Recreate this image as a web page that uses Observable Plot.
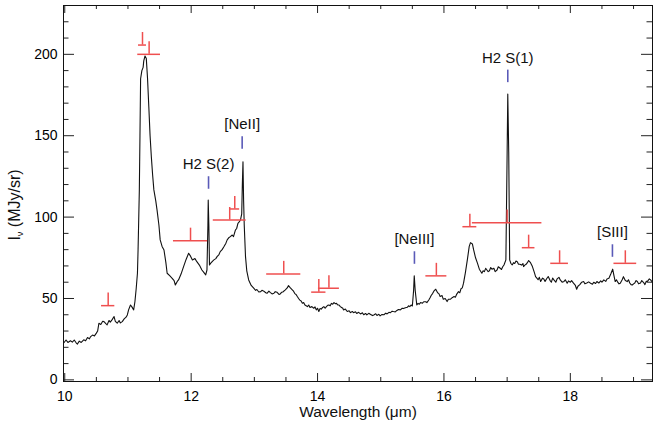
<!DOCTYPE html>
<html><head><meta charset="utf-8">
<script src="https://cdn.jsdelivr.net/npm/d3@7"></script>
<script src="https://cdn.jsdelivr.net/npm/@observablehq/plot@0.6"></script>
<style>body{margin:0;background:#fff} svg{display:block}</style>
</head><body><div id="chart"></div>
<script>
// Spectrum (wavelength in micron, intensity in MJy/sr)
const wavelength = [
9.98,10.02,10.05,10.09,10.12,10.15,10.18,10.2,10.23,10.26,10.3,10.33,10.36,10.39,10.41,10.44,10.47,10.5,10.52,10.54,10.57,10.6,10.62,10.65,10.67,10.7,10.72,10.75,10.78,10.8,10.83,10.86,10.88,10.91,10.94,10.97,10.99,11.01,11.04,11.06,11.09,11.11,11.13,11.15,11.16,11.17,11.18,11.19,11.2,11.22,11.24,11.25,11.27,11.29,11.31,11.33,11.35,11.37,11.39,11.41,11.44,11.46,11.49,11.51,11.54,11.57,11.6,11.62,11.66,11.7,11.73,11.75,11.78,11.8,11.84,11.88,11.92,11.96,11.99,12.02,12.06,12.09,12.13,12.17,12.2,12.23,12.25,12.265,12.27,12.28,12.29,12.31,12.34,12.36,12.39,12.41,12.44,12.46,12.49,12.52,12.55,12.57,12.6,12.62,12.65,12.67,12.7,12.72,12.74,12.76,12.78,12.8,12.81,12.82,12.83,12.84,12.86,12.88,12.91,12.95,
12.99,13.02,13.04,13.07,13.1,13.12,13.15,13.18,13.2,13.23,13.25,13.28,13.31,13.33,13.36,13.39,13.41,13.43,13.45,13.49,13.52,13.54,13.57,13.6,13.62,13.64,13.66,13.68,13.7,13.72,13.74,13.76,13.78,13.8,13.82,13.84,13.86,13.88,13.91,13.94,13.96,13.98,14.0,14.02,14.04,14.06,14.08,14.1,14.12,14.14,14.16,14.18,14.2,14.22,14.24,14.26,14.28,14.3,14.32,14.34,14.36,14.38,14.4,14.41,14.44,14.47,14.5,14.52,14.55,14.57,14.6,14.62,14.65,14.68,14.71,14.73,14.76,14.78,14.81,14.84,14.87,14.89,14.92,14.94,14.97,14.99,15.02,15.05,15.08,15.1,15.13,15.15,15.18,15.2,15.23,15.25,15.28,15.31,15.34,15.36,15.39,15.42,15.44,15.46,15.48,15.5,
15.52,15.53,15.545,
15.57,15.59,15.61,15.63,15.66,15.68,15.71,15.73,15.76,15.78,15.8,15.82,15.84,15.87,15.9,15.92,15.94,15.97,15.99,16.02,16.05,16.07,16.1,16.13,16.16,16.18,16.2,16.23,16.25,16.27,16.29,16.31,
16.34,16.37,16.4,16.42,16.45,16.47,16.5,16.53,16.56,
16.6,16.62,16.64,16.66,16.68,16.7,16.72,16.74,16.76,16.79,16.81,16.84,16.86,16.89,16.91,16.93,16.95,16.98,
17.0,17.01,17.025,
17.04,17.06,17.08,17.1,17.12,17.14,17.16,17.18,17.2,17.23,17.25,17.26,17.28,17.3,17.32,17.34,17.37,17.4,17.43,17.45,17.47,17.49,17.51,17.53,17.56,17.58,17.6,17.63,17.65,17.68,17.7,17.72,17.74,17.77,17.79,17.82,17.84,17.87,17.9,17.92,17.95,17.97,18.0,18.02,18.05,18.08,18.1,18.12,18.15,18.18,18.21,18.23,18.26,18.29,18.32,18.35,18.37,18.4,18.42,18.45,18.48,18.5,18.53,18.56,18.58,18.61,18.64,18.67,18.69,18.71,18.73,18.75,18.77,18.79,18.82,18.84,18.87,18.9,18.92,18.94,18.96,18.98,19.0,19.02,19.04,19.06,19.08,19.11,19.13,19.16,19.18,19.2,19.22,19.25,19.27,19.3];
const intensity = [
22.5,24.5,23.0,24.0,23.2,24.5,22.8,22.0,23.8,23.0,24.6,24.0,26.0,25.2,26.6,27.5,27.0,28.7,30.0,34.8,34.0,36.0,35.8,34.5,33.8,36.5,35.5,37.0,38.9,36.0,34.8,36.5,35.0,35.8,37.5,38.5,39.9,43.0,46.0,45.0,43.0,48.0,56.0,65.5,80,98,116.7,150,185,190,192,196,199,197.5,185,167.8,150,137,126,116.7,110,104.4,95,86,82,79.8,72,65.5,64,62.4,61,58.3,60.5,61.4,65,69.6,74,77.8,76,73.7,74.5,72.6,70.5,67.5,66,64.5,67.5,95,110.5,95,70.6,71.7,73,73.7,74.5,75.7,77,78.8,80,81.9,84,86,87.5,88,89,88,92,93,96.2,97,98.2,102,120,134,110,95,75.7,67,61.4,58,
56.3,55,55.5,54,54.2,55,54.5,53.5,53.2,54.5,53.8,52.8,53.2,54.2,53.8,52.5,52.8,53.8,54,55.3,56.5,57.9,56.5,55.3,54.5,53,52.5,51.2,50,49,48.5,47.1,47.5,46,45.5,45,46,44.5,45,44,44.8,43,44,42,43.8,43.5,44.5,45,44,45,45.8,46,45.5,47,46.5,47.5,46.8,47,46,46,45,44.5,44,43,43.5,42,42.5,41.3,42,41.3,41.8,40.8,41.5,40.5,41.2,40,40.8,39.9,40.9,40.2,39.5,39.9,40.6,39.6,40.3,39.3,40.2,40,41,40.5,41.5,41.2,42.2,42,41.8,42.5,43.2,43,44,43.8,44.3,44.6,45.5,45,46,45.4,
55,63.9,55,
46,47,46.5,47.5,47.1,48,48,47.5,49.1,50.5,52,53,54.5,55.7,53.5,53,51.2,51.8,49.5,50,48.1,49.5,49.5,50.5,51.2,50.8,52.5,54.2,53.5,56,56.5,59.4,
66,73.7,82,84.3,83.5,79.8,75,71.7,68,
65.5,67,66.5,68.5,67.5,66.5,67,69,68,68.6,66.5,67.5,69.5,68.6,67.8,69.5,70.6,73.7,
140,175.6,140,
73.7,71.5,70.6,72,71.5,73,72.6,71,71,70.5,71.5,69.6,70.5,71,72,73.3,72,69.6,66,63.4,62.5,61.5,63,60.4,62.5,62,60.5,62.4,63.5,61,60,62.5,61.4,60,62,63,61.4,60,60.5,61.5,59.4,60.8,60,61,59.4,58,55.7,57.5,58.5,60,60.4,59,59.5,60.2,59.4,58.8,60,59.2,60.4,59.5,60.8,60,61.4,60.5,62,62.4,65,68,64,60.4,61.5,60,59,59.4,61.5,63.4,61,60.4,61.5,59.5,58.5,58.3,59,59.5,61,60.4,59,59.5,61,59.8,58.5,60.5,60.5,62,61.4,60];

// Red feature markers: centre wavelength, level, half width (micron)
const featureX = [10.687,11.23,11.335,11.99,12.69,12.61,13.465,14.02,14.18,15.88,16.41,17.0,17.34,17.83,18.87];
const featureY = [45.6,205.7,200,85.5,105,98.2,65.1,53.9,56.3,63.9,94.1,96.6,81.2,71.6,71.6];
const featureHalfWidth = [0.105,0.063,0.18,0.27,0.077,0.26,0.27,0.113,0.166,0.166,0.11,0.55,0.1,0.14,0.18];

// Emission line identifications
const lineNames = ["H2 S(2)","[NeII]","[NeIII]","H2 S(1)","[SIII]"];
const lineX = [12.275,12.807,15.533,17.01,18.666];
const lineY = [117.1,141.7,71.0,182.6,75.3];

const xMajorTicks = [10,12,14,16,18];
const xMinorTicks = [10.5,11,11.5,12.5,13,13.5,14.5,15,15.5,16.5,17,17.5,18.5,19];
const yMajorTicks = [0,50,100,150,200];
const yMinorTicks = [10,20,30,40,60,70,80,90,110,120,130,140,160,170,180,190,210,220];

const n = Math.min(wavelength.length, intensity.length);
const spectrum = wavelength.slice(0, n).map((w,i)=>({w, f:intensity[i]}));
const features = featureX.map((x,i)=>({x, y:featureY[i], hw:featureHalfWidth[i]}));
const lines = lineNames.map((nm,i)=>({n:nm, x:lineX[i], y:lineY[i]}));

const W=653, H=425, mL=63, mR=1, mT=5, mB=44;
const fw = W-mL-mR, fh = H-mT-mB;
const tickUnits = 7.7; // marker stem height in data units
const red = "#ef4f4f", blue = "#5a5ab8";
const font = "Liberation Sans, Arial, Helvetica, sans-serif";

const chart = Plot.plot({
  width: W, height: H,
  marginLeft: mL, marginRight: mR, marginTop: mT, marginBottom: mB,
  x: {domain: [9.98, 19.30]},
  y: {domain: [-1, 230]},
  style: {fontFamily: font, background: "#fff", color: "#000"},
  marks: [
    Plot.line(spectrum, {x:"w", y:"f", stroke:"#111", strokeWidth:1.1, clip:true}),
    // red feature markers
    Plot.ruleY(features, {y:"y", x1:d=>d.x-d.hw, x2:d=>d.x+d.hw, stroke:red, strokeWidth:1.5}),
    Plot.ruleX(features, {x:"x", y1:"y", y2:d=>d.y+tickUnits, stroke:red, strokeWidth:1.5}),
    // blue line markers + labels
    Plot.ruleX(lines, {x:"x", y1:"y", y2:d=>d.y+tickUnits, stroke:blue, strokeWidth:1.6}),
    Plot.text(lines, {x:"x", y:"y", text:"n", dy:-20, lineAnchor:"bottom", fontSize:15, fill:"#111"}),
    // inward ticks
    Plot.tickX(xMajorTicks, {x:d=>d, insetTop: fh-8, stroke:"#222"}),
    Plot.tickX(xMinorTicks, {x:d=>d, insetTop: fh-4, stroke:"#222"}),
    Plot.tickX(xMajorTicks, {x:d=>d, insetBottom: fh-8, stroke:"#222"}),
    Plot.tickX(xMinorTicks, {x:d=>d, insetBottom: fh-4, stroke:"#222"}),
    Plot.tickY(yMajorTicks, {y:d=>d, insetRight: fw-11, stroke:"#222"}),
    Plot.tickY(yMinorTicks, {y:d=>d, insetRight: fw-5.5, stroke:"#222"}),
    Plot.tickY(yMajorTicks, {y:d=>d, insetLeft: fw-11, stroke:"#222"}),
    Plot.tickY(yMinorTicks, {y:d=>d, insetLeft: fw-5.5, stroke:"#222"}),
    Plot.axisX({ticks: xMajorTicks, tickSize:0, tickPadding:10, fontSize:14, label:null}),
    Plot.axisY({ticks: yMajorTicks, tickSize:0, tickPadding:6, fontSize:14, label:null}),
    Plot.text(["Wavelength (μm)"], {frameAnchor:"bottom", text:d=>d, dy:31, lineAnchor:"middle", fontSize:15.5, fill:"#111"}),
    Plot.frame({stroke:"#111", strokeWidth:1})
  ]
});
document.getElementById("chart").appendChild(chart);

// y-axis title with subscript nu
const svg = d3.select(chart);
const t = svg.append("text")
  .attr("transform","translate(20,205) rotate(-90)")
  .attr("text-anchor","middle")
  .attr("font-family", font)
  .attr("font-size", 16)
  .attr("fill","#111");
t.append("tspan").text("I");
t.append("tspan").attr("font-size",9).attr("dy",3).text("ν");
t.append("tspan").attr("dy",-3).text(" (MJy/sr)");
</script>
</body></html>
